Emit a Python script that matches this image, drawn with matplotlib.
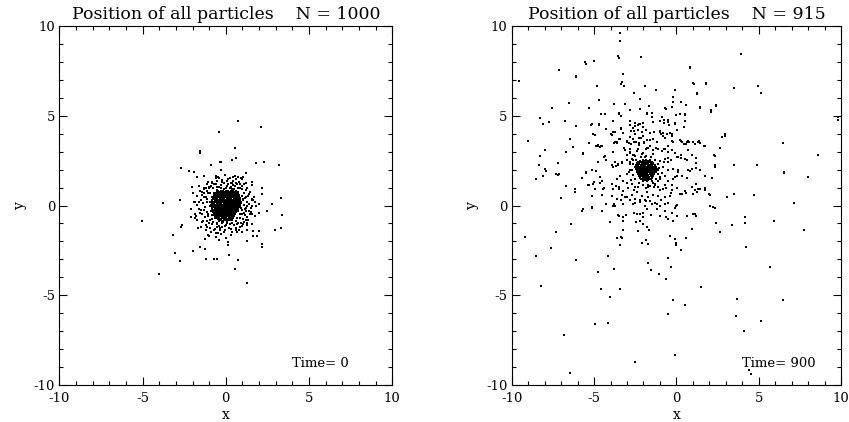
import matplotlib
matplotlib.use("Agg")
import matplotlib.pyplot as plt
from matplotlib.ticker import MultipleLocator

plt.rcParams['font.family'] = ['DejaVu Serif']
plt.rcParams['axes.unicode_minus'] = False

# ---------------- data ----------------
titles = ["Position of all particles    N = 1000", "Position of all particles    N = 915"]
time_labels = ["Time= 0", "Time= 900"]

# Left panel (Time = 0): isolated particles
left_outer = [
    (0.72, 4.70), (2.14, 4.36), (-0.42, 4.09), (0.54, 3.19), (-1.56, 3.05), (-1.56, 2.90),
    (0.62, 2.64), (0.38, 2.53), (-0.36, 2.40), (-0.30, 2.40), (2.28, 2.45), (1.84, 2.34),
    (3.18, 2.28), (-0.90, 2.28), (-2.72, 2.10), (-2.22, 1.93), (-1.88, 1.84), (-0.28, 1.99),
    (1.20, 1.80), (-1.70, 1.60), (-1.28, 1.67), (-0.58, 1.67), (-0.48, 1.58), (0.24, 1.54),
    (0.44, 1.58), (0.76, 1.58), (0.94, 1.54), (1.02, 1.60), (0.60, 1.24), (0.30, 1.23),
    (0.84, 1.19), (1.58, 1.13), (2.18, 1.00), (-2.04, 1.04), (-1.16, 1.00), (-0.82, 1.26),
    (2.18, 0.63), (-1.54, 0.78), (-1.32, 0.69), (-3.76, 0.15), (-2.74, 0.32), (-1.92, 0.20),
    (-1.86, 0.17), (1.58, 0.35), (1.76, 0.20), (2.02, 0.09), (2.78, 0.06), (3.34, 0.41),
    (3.40, -0.54), (3.34, -1.26), (2.96, -1.36), (2.48, -0.32), (2.02, -0.39), (1.52, -0.35),
    (-5.02, -0.85), (-2.08, -0.65), (-1.86, -0.71), (-1.74, -0.80), (-1.80, -0.61),
    (-2.66, -1.11), (-2.72, -1.17), (-1.64, -1.23), (-1.48, -1.19), (-3.20, -1.67),
    (-1.16, -1.36), (-1.06, -1.63), (-0.60, -1.76), (-0.44, -1.54), (-0.36, -1.36),
    (1.24, -0.80), (1.28, -0.95), (1.26, -1.11), (1.30, -1.36), (1.62, -1.41), (1.64, -1.69),
    (1.86, -1.69), (2.02, -1.41), (0.12, -2.04), (0.14, -2.21), (1.26, -1.99), (2.16, -2.14),
    (2.18, -2.32), (-1.26, -1.88), (-1.54, -2.30), (-1.22, -2.43), (-1.94, -2.53),
    (-3.04, -2.64), (0.22, -2.73), (-1.18, -2.97), (-0.72, -2.99), (-0.54, -2.99),
    (-2.76, -3.08), (0.76, -3.06), (0.56, -3.51), (-4.02, -3.84), (1.30, -4.31),
]

# Left panel: particles around the dense core
left_halo = [
    (-1.20, 0.50), (-1.10, 0.20), (-1.25, -0.10), (-1.15, -0.35), (-1.05, -0.60), (-1.30, 0.90),
    (-1.00, 0.95), (-0.90, 1.10), (-0.70, 1.20), (-0.50, 1.05), (-0.30, 1.15), (-0.10, 1.25),
    (0.10, 1.10), (0.30, 1.05), (0.55, 1.10), (0.75, 0.95), (0.95, 0.90), (1.10, 0.70),
    (1.20, 0.45), (1.25, 0.20), (1.30, -0.05), (1.20, -0.30), (1.15, -0.55), (1.05, -0.75),
    (0.90, -0.95), (0.70, -1.05), (0.50, -1.10), (0.25, -1.05), (0.00, -1.10), (-0.25, -1.00),
    (-0.50, -0.95), (-0.75, -0.90), (-0.95, -0.80),
    (-1.50, 0.30), (-1.60, -0.20), (-1.45, -0.50), (-1.35, -0.85), (-1.20, -1.10), (-0.95, -1.25),
    (-0.65, -1.30), (-0.35, -1.25), (-0.05, -1.35), (0.30, -1.30), (0.60, -1.35), (0.85, -1.20),
    (1.05, -1.05), (1.35, -0.80), (1.45, -0.50), (1.50, -0.15), (1.55, 0.30), (1.40, 0.65),
    (1.30, 0.95), (1.10, 1.20), (0.80, 1.30), (0.45, 1.35), (0.15, 1.45), (-0.20, 1.40),
    (-0.50, 1.35), (-0.85, 1.30), (-1.10, 1.20), (-1.40, 0.75), (-1.70, 0.55), (-1.75, 0.05),
    (-1.85, -0.45), (-0.60, -1.55), (-0.90, -1.50), (-0.30, -1.60), (0.30, -1.65), (0.65, -1.50),
    (0.95, -1.45), (1.60, -1.05), (1.75, -0.60), (1.80, 0.00), (1.70, 0.50), (1.55, 1.30),
    (-1.60, 1.10), (-1.95, 0.70), (-2.10, -0.20), (-1.00, -1.70), (0.00, -1.80), (-0.40, -1.90),
    (1.00, 1.50), (-0.05, 1.70), (-0.60, 1.55), (0.55, 1.65), (-1.46, -0.24), (-1.00, 1.02),
    (1.15, -0.20), (1.05, 0.35), (-1.05, 0.70), (-1.10, -0.85), (0.40, 1.25), (-0.40, -1.15),
    (0.95, 0.55), (1.02, 0.30), (1.10, 0.05), (1.00, -0.25), (0.98, -0.50), (0.85, -0.72),
    (0.62, -0.85), (0.38, -0.95), (0.10, -0.98), (-0.18, -0.92), (-0.42, -0.86), (-0.62, -0.70),
    (-0.80, -0.52), (-0.90, -0.30), (-0.95, -0.05), (-0.92, 0.22), (-0.85, 0.45), (-0.72, 0.68),
    (-0.52, 0.85), (-0.28, 0.95), (0.00, 1.00), (0.25, 0.98), (0.52, 0.90), (0.75, 0.76),
    (1.08, 0.72), (1.18, 0.42), (1.22, -0.12), (1.12, -0.42), (0.75, -0.98), (0.48, -1.08),
    (-0.05, -1.12), (-0.55, -1.02), (-0.85, -0.75), (-1.08, -0.45), (-1.10, 0.35), (-0.95, 0.70),
    (-0.75, 0.95), (-0.42, 1.05), (0.15, 1.18), (0.45, 1.12), (0.85, 0.98),
    (1.35, 0.55), (1.42, 0.10), (1.38, -0.30), (1.28, -0.65), (1.10, -0.90), (0.95, -1.15),
    (0.60, -1.25), (0.20, -1.28), (-0.20, -1.22), (-0.50, -1.20), (-0.80, -1.05), (-1.02, -0.95),
    (-1.25, -0.62), (-1.32, -0.25), (-1.35, 0.12), (-1.28, 0.48), (-1.15, 0.80), (-0.92, 1.05),
    (-0.60, 1.22), (-0.25, 1.30), (0.35, 1.28), (0.70, 1.20), (1.00, 1.10), (1.22, 0.88),
    (1.55, -0.05), (1.48, 0.75), (1.60, -0.45), (1.30, -1.00), (0.82, -1.38), (0.40, -1.45),
    (-0.10, -1.50), (-0.70, -1.38), (-1.15, -1.20), (-1.42, -0.92), (-1.55, -0.40), (-1.58, 0.22),
    (-1.45, 0.60), (-1.30, 1.00), (-1.05, 1.30), (-0.38, 1.52), (0.05, 1.38), (0.62, 1.45),
    (1.20, 1.28), (1.65, 0.32),
    (0.90, 0.15), (0.92, -0.12), (0.78, 0.60), (0.60, 0.82), (0.35, 0.90), (-0.12, 0.92),
    (-0.45, 0.80), (-0.68, 0.55), (-0.82, 0.30), (-0.86, 0.00), (-0.80, -0.25), (-0.68, -0.55),
    (-0.45, -0.75), (-0.20, -0.85), (0.10, -0.88), (0.40, -0.82), (0.65, -0.70), (0.85, -0.45),
]

# Left panel: dense core, rows of particles (y value, x values)
left_core_rows_y = [0.82, 0.72, 0.62, 0.52, 0.42, 0.32, 0.22, 0.12, 0.02,
                    -0.08, -0.18, -0.28, -0.38, -0.48, -0.58, -0.68, -0.78]
left_core_rows_x = [
    [-0.45, -0.30, -0.15, 0.00, 0.14, 0.30, 0.46],
    [-0.55, -0.42, -0.28, -0.12, 0.02, 0.17, 0.31, 0.45, 0.60],
    [-0.66, -0.52, -0.38, -0.24, -0.10, 0.04, 0.18, 0.33, 0.47, 0.60, 0.72],
    [-0.72, -0.58, -0.45, -0.31, -0.17, -0.03, 0.11, 0.25, 0.38, 0.52, 0.66, 0.80],
    [-0.77, -0.63, -0.50, -0.36, -0.22, -0.08, 0.06, 0.20, 0.33, 0.47, 0.61, 0.75, 0.86],
    [-0.80, -0.67, -0.53, -0.40, -0.26, -0.12, 0.01, 0.15, 0.29, 0.42, 0.56, 0.70, 0.84],
    [-0.84, -0.70, -0.56, -0.43, -0.29, -0.15, -0.02, 0.12, 0.26, 0.40, 0.53, 0.67, 0.80, 0.92],
    [-0.82, -0.68, -0.54, -0.41, -0.27, -0.13, 0.00, 0.14, 0.28, 0.41, 0.55, 0.69, 0.82],
    [-0.86, -0.72, -0.58, -0.45, -0.31, -0.17, -0.04, 0.10, 0.24, 0.37, 0.51, 0.65, 0.78],
    [-0.84, -0.70, -0.56, -0.42, -0.29, -0.15, -0.01, 0.13, 0.26, 0.40, 0.54, 0.68, 0.81],
    [-0.81, -0.67, -0.53, -0.40, -0.26, -0.12, 0.02, 0.15, 0.29, 0.43, 0.57, 0.70],
    [-0.78, -0.64, -0.50, -0.37, -0.23, -0.09, 0.05, 0.18, 0.32, 0.46, 0.60, 0.73],
    [-0.74, -0.60, -0.47, -0.33, -0.19, -0.05, 0.08, 0.22, 0.36, 0.50, 0.63],
    [-0.68, -0.55, -0.41, -0.27, -0.13, 0.00, 0.14, 0.28, 0.42, 0.55],
    [-0.62, -0.48, -0.35, -0.21, -0.07, 0.07, 0.20, 0.34, 0.48],
    [-0.52, -0.38, -0.25, -0.11, 0.03, 0.17, 0.30, 0.44],
    [-0.27, -0.13, 0.00, 0.14, 0.28],
]
left_core2_rows_y = [0.77, 0.67, 0.57, 0.47, 0.37, 0.27, 0.17, 0.07, -0.03,
                     -0.13, -0.23, -0.33, -0.43, -0.53, -0.63, -0.73]
left_core2_rows_x = [
    [-0.50, -0.36, -0.21, -0.06, 0.08, 0.23, 0.38, 0.53],
    [-0.60, -0.46, -0.32, -0.18, -0.04, 0.10, 0.24, 0.39, 0.54, 0.66],
    [-0.69, -0.55, -0.41, -0.27, -0.13, 0.01, 0.15, 0.29, 0.43, 0.57, 0.71],
    [-0.74, -0.60, -0.47, -0.33, -0.19, -0.05, 0.09, 0.23, 0.36, 0.50, 0.64, 0.78],
    [-0.78, -0.64, -0.50, -0.36, -0.22, -0.08, 0.06, 0.20, 0.34, 0.48, 0.62, 0.76, 0.88],
    [-0.80, -0.66, -0.52, -0.38, -0.24, -0.10, 0.04, 0.18, 0.32, 0.46, 0.60, 0.74, 0.86],
    [-0.82, -0.68, -0.54, -0.40, -0.26, -0.12, 0.02, 0.16, 0.30, 0.44, 0.58, 0.72, 0.85],
    [-0.83, -0.69, -0.55, -0.41, -0.27, -0.13, 0.01, 0.15, 0.29, 0.43, 0.57, 0.71, 0.84],
    [-0.82, -0.68, -0.54, -0.40, -0.26, -0.12, 0.02, 0.16, 0.30, 0.44, 0.58, 0.72, 0.85],
    [-0.80, -0.66, -0.52, -0.38, -0.24, -0.10, 0.04, 0.18, 0.32, 0.46, 0.60, 0.74],
    [-0.77, -0.63, -0.49, -0.35, -0.21, -0.07, 0.07, 0.21, 0.35, 0.49, 0.63, 0.75],
    [-0.72, -0.58, -0.44, -0.30, -0.16, -0.02, 0.12, 0.26, 0.40, 0.54, 0.67],
    [-0.67, -0.53, -0.39, -0.25, -0.11, 0.03, 0.17, 0.31, 0.45, 0.58],
    [-0.60, -0.46, -0.32, -0.18, -0.04, 0.10, 0.24, 0.38, 0.51],
    [-0.52, -0.38, -0.24, -0.10, 0.04, 0.18, 0.32, 0.45],
    [-0.40, -0.26, -0.12, 0.02, 0.16, 0.30],
]

# Right panel (Time = 900): isolated particles
right_outer = [
    (-3.42, 9.61), (-3.42, 9.14), (-3.50, 8.24), (-2.15, 8.26), (3.89, 8.43), (-5.51, 7.91),
    (-4.98, 8.07), (-7.15, 7.57), (0.83, 7.64), (-9.55, 6.93), (-6.07, 7.14), (-3.24, 7.35),
    (-3.28, 6.90), (-3.20, 6.64), (-3.38, 6.79), (-4.82, 6.67), (-1.92, 6.65), (-1.23, 6.43),
    (-0.06, 6.45), (1.05, 6.79), (1.80, 6.79), (3.50, 6.52), (4.96, 6.67), (5.16, 6.26),
    (-2.57, 6.26), (-0.20, 6.04), (1.23, 6.22),
    (-6.52, 5.70), (-4.68, 5.87), (-3.81, 5.64), (-3.14, 5.66), (-2.19, 5.94), (-1.66, 5.57),
    (-0.22, 5.78), (0.28, 5.78), (0.55, 5.59), (-0.28, 5.46), (-0.63, 5.40), (-7.57, 5.42),
    (-5.28, 5.42), (-2.79, 5.33), (-2.23, 5.35), (1.44, 5.44), (2.41, 5.55), (2.11, 5.23),
    (-4.57, 5.08), (-4.31, 5.08), (-3.50, 5.08), (-3.36, 5.01), (-1.78, 5.07), (-1.48, 4.95),
    (-0.85, 4.95), (-0.02, 5.03), (0.53, 5.03), (9.80, 4.79), (9.82, 4.92),
    (-8.26, 4.88), (-8.10, 4.54), (-7.73, 4.65), (-6.78, 4.69), (-6.09, 4.43), (-5.18, 4.47),
    (-4.70, 4.47), (-4.29, 4.26), (-3.83, 4.09), (-3.34, 4.28), (-2.79, 4.71), (-2.49, 4.41),
    (-2.35, 4.49), (-2.23, 4.52), (-2.04, 4.37), (-2.73, 4.13), (-2.55, 4.13), (-1.84, 4.19),
    (-0.97, 4.71), (-0.77, 4.62), (-0.45, 4.49), (-0.06, 4.52), (0.45, 4.39), (-3.91, 3.91),
    (-4.96, 3.91), (-1.01, 4.09), (-0.93, 3.98), (-0.57, 3.98), (-0.28, 3.89), (-0.81, 3.87),
    (2.94, 3.87), (2.79, 3.79),
    (-9.01, 3.61), (-6.44, 3.68), (-6.28, 3.27), (-6.70, 2.97), (-7.96, 3.08), (-5.28, 3.50),
    (-4.74, 3.31), (-4.62, 3.25), (-4.51, 3.31), (-3.77, 3.50), (-3.60, 3.53), (-3.44, 3.68),
    (-2.99, 3.59), (-2.87, 3.46), (-2.61, 3.72), (-2.43, 3.53), (-2.29, 3.46), (-2.15, 3.78),
    (-1.98, 3.53), (-3.20, 3.21), (-2.79, 3.12), (-2.31, 3.16), (-1.84, 3.16), (-1.58, 3.31),
    (-1.23, 3.18), (-0.77, 3.12), (-0.53, 3.31), (-0.20, 3.53), (0.28, 3.59), (0.45, 3.42),
    (0.61, 3.44), (0.75, 3.53), (1.11, 3.44), (1.42, 3.50), (1.70, 3.31), (2.63, 3.21),
    (6.48, 3.46), (8.60, 2.84), (-5.67, 2.86), (-4.86, 3.31),
    (-8.30, 2.75), (-7.19, 2.37), (-8.34, 2.24), (-8.00, 2.04), (-7.91, 1.94), (-8.54, 1.50),
    (-8.10, 1.63), (-7.29, 1.76), (-7.15, 1.76), (-7.19, 1.68), (-6.72, 1.07), (-5.51, 1.79),
    (-5.14, 2.00), (-4.78, 2.43), (-4.41, 2.69), (-4.25, 2.56), (-3.91, 2.28), (-3.68, 2.22),
    (-3.54, 2.32), (-3.30, 2.41), (-3.00, 2.79), (-2.79, 2.90), (-2.67, 2.60), (-2.49, 2.75),
    (0.12, 2.71), (0.28, 2.64), (0.65, 2.56), (1.19, 2.67), (1.19, 2.37), (-0.53, 2.65),
    (-0.36, 2.56), (-0.77, 2.43), (2.31, 2.75), (2.33, 2.26), (3.48, 2.24), (4.90, 2.24),
    (6.54, 1.81), (8.00, 1.57), (0.85, 1.94), (1.17, 2.09), (1.40, 1.96), (0.08, 1.96),
    (-5.73, 1.53), (-5.28, 1.12), (-5.02, 1.29), (-4.62, 1.25), (-4.41, 0.97), (-3.91, 1.21),
    (-3.68, 1.07), (-3.50, 0.93), (-3.00, 1.25), (-2.59, 0.88), (-1.58, 1.07), (-1.28, 1.16),
    (-0.97, 0.88), (-0.67, 1.12), (-0.61, 0.97), (-0.26, 1.16), (0.04, 1.66), (-0.10, 1.59),
    (0.65, 1.53), (1.19, 1.20), (1.15, 0.88), (1.42, 0.92), (1.76, 0.88), (2.06, 0.58),
    (0.34, 0.65), (0.55, 0.69), (0.20, 0.65), (-0.32, 0.69), (-6.15, 0.93), (-6.17, 0.73),
    (-7.00, 0.39), (3.48, 0.65), (3.04, 0.49), (4.70, 0.58), (7.15, 0.15),
    (-5.73, -0.28), (-5.12, -0.13), (-4.51, -0.28), (-4.25, 0.06), (-3.77, 0.09), (-3.74, 0.00),
    (-3.36, 0.32), (-3.10, 0.50), (-2.79, 0.32), (-2.49, 0.13), (-2.23, 0.32), (-1.88, 0.32),
    (-1.74, 0.50), (-1.84, 0.26), (-1.48, 0.09), (-1.17, 0.09), (-0.93, 0.32), (-0.53, 0.13),
    (0.00, 0.00), (-0.10, -0.15), (-3.50, -0.58), (-3.04, -0.52), (-2.57, -0.43), (-2.19, -0.47),
    (-2.00, -0.62), (-1.52, -0.52), (-1.01, -0.58), (-0.65, -0.62), (-0.51, -0.75), (-0.22, -0.84),
    (0.99, -0.50), (1.19, -0.58), (2.31, -0.13), (2.39, -0.95), (4.15, -0.65), (4.17, -0.97),
    (3.38, -1.10), (5.91, -0.86), (-6.40, -1.03),
    (-4.01, -0.90), (-3.26, -0.86), (-2.43, -0.93), (-2.19, -0.84), (-2.00, -1.03), (-1.78, -1.21),
    (-1.68, -1.36), (-2.33, -1.42), (-3.24, -1.36), (-3.28, -1.83), (-3.60, -1.81), (-3.36, -1.78),
    (-3.40, -2.22), (-7.29, -1.46), (-9.21, -1.74), (-0.40, -1.70), (-0.06, -1.87), (0.00, -2.11),
    (-0.02, -2.22), (0.55, -1.79), (0.95, -1.29), (2.67, -1.50), (7.77, -1.36), (-2.11, -2.07),
    (-1.84, -1.93), (-1.72, -2.15), (4.21, -2.30), (0.28, -2.49),
    (-7.61, -2.39), (-8.54, -2.82), (-6.07, -3.01), (-4.13, -2.82), (-3.79, -3.53), (-4.74, -3.70),
    (-1.74, -3.23), (-1.54, -3.61), (-1.07, -3.83), (-0.49, -2.95), (-0.34, -3.42), (-0.63, -4.07),
    (5.67, -3.42), (-8.22, -4.49), (-4.57, -4.65), (-3.40, -4.65), (1.50, -4.54), (-4.01, -5.12),
    (-0.20, -5.25), (0.49, -5.57), (3.68, -5.23), (6.44, -5.29), (-0.53, -6.06), (3.62, -6.17),
    (5.16, -6.45), (-4.94, -6.60), (-4.15, -6.52), (4.13, -7.01), (-6.82, -7.23), (-0.10, -8.32),
    (-2.49, -8.71), (-6.44, -9.31), (4.43, -9.18), (4.55, -9.36),
    (2.93, 3.96), (2.26, 2.80), (2.36, 2.14), (1.75, 1.64), (1.96, 0.64), (1.72, 3.34),
    (1.39, 3.57), (2.40, 5.61), (2.08, 5.30), (1.43, 5.50), (1.82, 6.85), (1.03, 6.85),
    (1.23, 6.27), (0.85, 7.69), (-6.08, 7.21), (-5.53, 8.00), (-3.55, 8.33), (6.51, 1.86),
]

right_halo = [
    (-4.60, 5.12), (-4.33, 5.12), (-3.46, 5.14), (-2.82, 5.33), (-5.14, 4.52), (-4.72, 4.56),
    (-4.29, 4.26), (-3.83, 4.73), (-3.38, 4.30), (-2.82, 4.49), (-2.51, 4.58), (-2.25, 4.54),
    (-2.00, 4.58), (-2.61, 4.30), (-2.31, 4.21), (-2.11, 4.11), (-5.04, 3.98), (-3.99, 4.00),
    (-3.73, 4.07), (-3.22, 4.02), (-2.82, 3.83), (-2.51, 3.96), (-2.25, 3.77), (-2.00, 3.89),
    (-1.80, 3.64), (-3.73, 3.55), (-3.46, 3.70), (-3.59, 3.46), (-3.02, 3.55), (-2.78, 3.40),
    (-2.55, 3.55), (-2.25, 3.36), (-1.97, 3.46), (-1.80, 3.21), (-4.78, 3.36), (-4.60, 3.32),
    (-5.65, 2.93), (-4.33, 2.76), (-3.12, 3.08), (-2.82, 2.99), (-2.61, 2.80), (-2.37, 3.02),
    (-2.11, 2.89), (-1.91, 2.70), (-3.73, 2.42), (-3.52, 2.27), (-3.83, 2.14), (-3.32, 2.39),
    (-3.02, 2.52), (-2.82, 2.33), (-2.61, 2.52), (-2.51, 2.14), (-2.82, 1.95), (-3.02, 1.77),
    (-5.14, 1.99), (-5.49, 1.86), (-4.88, 1.90), (-4.64, 1.58), (-4.54, 1.39), (-3.42, 1.67),
    (-3.63, 1.49), (-3.22, 1.39), (-5.35, 1.15), (-5.04, 1.20), (-4.44, 0.92), (-4.54, 0.59),
    (-3.83, 0.92), (-3.46, 1.02), (-3.22, 0.83), (-2.92, 0.96), (-3.93, 0.51), (-3.63, 0.36),
    (-3.32, 0.59), (-3.02, 0.45), (-2.72, 0.59), (-2.41, 0.74), (-5.14, 0.55), (-4.94, 0.92),
    (-3.83, -0.02), (-3.22, 0.08), (-2.61, 0.08), (-2.21, 0.21), (-1.90, -0.02), (-5.65, -0.20),
    (-5.10, -0.11), (-3.52, -0.54), (-3.22, -0.62), (-2.41, -0.49), (-2.05, -0.39), (-2.51, 0.36),
    (-2.11, 0.51), (-1.80, 0.74), (-2.72, 1.20), (-2.51, 1.02), (-3.83, 2.99),
    (-1.81, 5.14), (-1.50, 5.14), (-0.69, 5.43), (0.22, 5.09), (0.52, 5.09), (-1.40, 4.64),
    (-0.73, 4.77), (-0.53, 4.64), (-0.49, 4.77), (-0.08, 4.58), (0.52, 4.71), (-0.99, 4.15),
    (-0.79, 4.02), (-0.59, 3.96), (-0.39, 4.02), (-0.29, 3.96), (-1.60, 4.02), (-1.34, 4.11),
    (0.02, 4.20), (-1.60, 3.64), (-1.40, 3.70), (-1.20, 3.55), (-0.69, 3.74), (-0.25, 3.59),
    (0.22, 3.64), (0.36, 3.55), (0.62, 3.51), (0.73, 3.59), (1.03, 3.55), (1.33, 3.55),
    (-1.70, 3.21), (-1.40, 3.08), (-1.10, 3.17), (-0.89, 3.02), (-0.69, 3.14), (-0.49, 2.99),
    (-0.29, 3.08), (-0.08, 2.95), (0.73, 3.08), (0.93, 2.83), (0.02, 2.70), (0.28, 2.80),
    (0.52, 2.61), (-0.69, 2.61), (-0.49, 2.42), (-0.99, 2.46), (-0.79, 2.14), (-0.49, 1.95),
    (-0.19, 2.05), (-1.30, 2.14), (-1.10, 1.95), (-0.89, 1.82), (0.12, 1.86), (0.32, 1.67),
    (0.73, 1.95), (0.93, 2.05), (-0.69, 1.67), (-0.99, 1.49), (-0.49, 1.39), (-0.19, 1.49),
    (-1.50, 1.39), (-1.30, 1.20), (-1.70, 1.02), (-1.10, 1.02), (-0.79, 0.92), (-0.29, 0.88),
    (0.02, 0.96), (0.52, 0.83), (0.93, 1.02), (1.33, 0.92), (1.74, 0.96), (-1.40, 0.59),
    (-1.10, 0.51), (-0.69, 0.45), (-0.39, 0.51), (0.32, 0.64), (1.03, 0.64), (1.24, 0.74),
    (-1.60, 0.27), (-1.30, 0.13), (-0.99, -0.02), (-0.69, 0.08), (0.02, 0.02), (-1.80, -0.20),
    (-1.20, -0.20), (-0.69, -0.30), (-0.29, -0.43), (0.02, -0.58), (0.62, -0.58), (1.13, -0.49),
    (2.04, -0.02), (2.24, -0.11), (1.74, 1.67), (2.14, 1.52),
    (-1.20, 2.00), (-1.15, 2.30), (-1.30, 2.55), (-1.55, 2.70), (-1.85, 2.75), (-2.15, 2.70),
    (-2.45, 2.55), (-2.62, 2.30), (-2.70, 2.00), (-2.65, 1.70), (-2.50, 1.45), (-2.30, 1.25),
    (-2.00, 1.15), (-1.70, 1.12), (-1.42, 1.25), (-1.25, 1.50), (-1.15, 1.75), (-1.05, 2.10),
    (-1.00, 1.60), (-1.40, 2.85), (-2.00, 2.95), (-2.55, 2.80), (-2.80, 2.45), (-2.90, 1.85),
    (-2.75, 1.40), (-2.35, 1.05), (-1.85, 0.95), (-1.35, 1.05), (-1.10, 1.35),
]

# Right panel: dense core, rows of particles (y value, x values)
right_core_rows_y = [2.55, 2.45, 2.35, 2.25, 2.15, 2.05, 1.95, 1.85, 1.75, 1.65, 1.55, 1.45, 1.35]
right_core_rows_x = [
    [-2.05, -1.85, -1.62],
    [-2.30, -2.15, -2.00, -1.84, -1.70, -1.52],
    [-2.40, -2.26, -2.12, -1.98, -1.84, -1.70, -1.56, -1.40],
    [-2.45, -2.31, -2.17, -2.03, -1.89, -1.75, -1.61, -1.47, -1.33],
    [-2.50, -2.36, -2.22, -2.08, -1.94, -1.80, -1.66, -1.52, -1.38, -1.24],
    [-2.46, -2.32, -2.18, -2.04, -1.90, -1.76, -1.62, -1.48, -1.34, -1.20],
    [-2.42, -2.28, -2.14, -2.00, -1.86, -1.72, -1.58, -1.44, -1.30],
    [-2.38, -2.24, -2.10, -1.96, -1.82, -1.68, -1.54, -1.40, -1.27],
    [-2.33, -2.19, -2.05, -1.91, -1.77, -1.63, -1.49, -1.35],
    [-2.27, -2.13, -1.99, -1.85, -1.71, -1.57, -1.43],
    [-2.20, -2.06, -1.92, -1.78, -1.64, -1.50],
    [-2.12, -1.97, -1.82, -1.66],
    [-2.00, -1.80],
]
right_core2_rows_y = [2.50, 2.40, 2.30, 2.20, 2.10, 2.00, 1.90, 1.80, 1.70, 1.60, 1.50, 1.40]
right_core2_rows_x = [
    [-2.20, -2.05, -1.90, -1.75, -1.60],
    [-2.35, -2.20, -2.05, -1.91, -1.77, -1.63, -1.48],
    [-2.40, -2.26, -2.12, -1.98, -1.84, -1.70, -1.56, -1.42],
    [-2.45, -2.31, -2.17, -2.03, -1.89, -1.75, -1.61, -1.47, -1.32],
    [-2.42, -2.28, -2.14, -2.00, -1.86, -1.72, -1.58, -1.44, -1.30],
    [-2.40, -2.26, -2.12, -1.98, -1.84, -1.70, -1.56, -1.42, -1.28],
    [-2.36, -2.22, -2.08, -1.94, -1.80, -1.66, -1.52, -1.38],
    [-2.32, -2.18, -2.04, -1.90, -1.76, -1.62, -1.48, -1.34],
    [-2.26, -2.12, -1.98, -1.84, -1.70, -1.56, -1.42],
    [-2.20, -2.06, -1.92, -1.78, -1.64, -1.50],
    [-2.13, -1.99, -1.85, -1.71, -1.57],
    [-2.02, -1.88, -1.74],
]


def gather(outer, halo, row_sets):
    xs = [p[0] for p in outer] + [p[0] for p in halo]
    ys = [p[1] for p in outer] + [p[1] for p in halo]
    for rows_y, rows_x in row_sets:
        for yv, row in zip(rows_y, rows_x):
            xs += row
            ys += [yv] * len(row)
    return xs, ys


panels = [
    gather(left_outer, left_halo,
           [(left_core_rows_y, left_core_rows_x), (left_core2_rows_y, left_core2_rows_x)]),
    gather(right_outer, right_halo,
           [(right_core_rows_y, right_core_rows_x), (right_core2_rows_y, right_core2_rows_x)]),
]

fig = plt.figure(figsize=(8.49, 4.22), dpi=100)
positions = [[59.3 / 849, 37 / 422, 333 / 849, 359 / 422],
             [511.7 / 849, 37 / 422, 329.5 / 849, 359 / 422]]

for i, (xs, ys) in enumerate(panels):
    ax = fig.add_axes(positions[i])
    ax.plot(xs, ys, linestyle='none', marker='s', markersize=1.6,
            markeredgewidth=0, color='black')
    ax.set_xlim(-10, 10)
    ax.set_ylim(-10, 10)
    ax.xaxis.set_major_locator(MultipleLocator(5))
    ax.yaxis.set_major_locator(MultipleLocator(5))
    ax.xaxis.set_minor_locator(MultipleLocator(1))
    ax.yaxis.set_minor_locator(MultipleLocator(1))
    ax.tick_params(which='both', direction='in', top=True, right=True, width=0.8,
                   labelsize=9.5)
    ax.tick_params(axis='y', pad=3)
    ax.tick_params(axis='x', pad=5)
    ax.tick_params(which='major', length=6)
    ax.tick_params(which='minor', length=3)
    for s in ax.spines.values():
        s.set_linewidth(0.8)
    ax.set_title(titles[i], fontsize=12.5, pad=5)
    ax.set_xlabel('x', fontsize=10, labelpad=2)
    ax.set_ylabel('y', fontsize=10, labelpad=5)
    ax.text(4.0, -8.8, time_labels[i], fontsize=9.5, ha='left', va='center')

fig.savefig('out.png', dpi=100)
